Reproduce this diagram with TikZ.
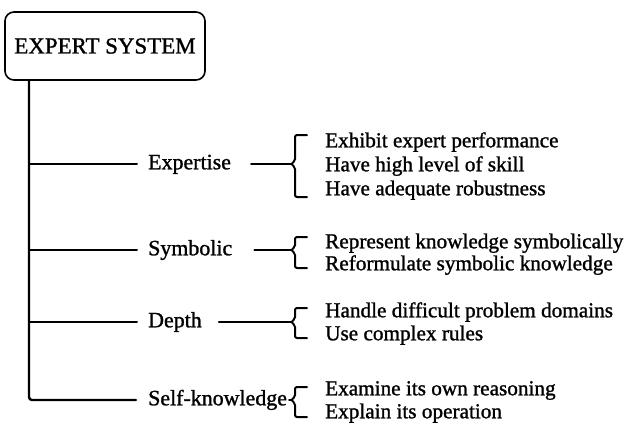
\documentclass[tikz,border=0pt]{standalone}
\usepackage{fontspec}
\setmainfont{Liberation Serif}[RawFeature={embolden=1.2}]
\usetikzlibrary{positioning}

\tikzset{
  lbl/.style={anchor=west, inner sep=0pt, font=\fontsize{22}{24}\selectfont, text height=15bp, text depth=4.5bp},
  item/.style={lbl, font=\fontsize{21.3}{24}\selectfont},
  stem/.style={line width=2bp},
  bracket/.style={line width=2bp, rounded corners=2bp},
}

\begin{document}
\begin{tikzpicture}[x=1bp, y=-1bp, line cap=round]
  \useasboundingbox (0,0) rectangle (636,426);

  % Root box
  \node[draw, line width=1.6bp, rounded corners=9bp, minimum width=200bp, minimum height=68bp,
        font=\fontsize{23}{25}\selectfont] (root) at (105,46) {EXPERT SYSTEM};

  % Branch labels
  \node[lbl] (expertise) at (148,164) {Expertise};
  \node[lbl] (symbolic) at (148,250) {Symbolic};
  \node[lbl] (depth) at (148,322) {Depth};
  \node[lbl] (self) at (148,400) {Self-knowledge};

  % Items
  \node[item] (exp1) at (325,142) {Exhibit expert performance};
  \node[item] (exp2) at (325,166) {Have high level of skill};
  \node[item] (exp3) at (325,190) {Have adequate robustness};
  \node[item] (sym1) at (325,243) {Represent knowledge symbolically};
  \node[item] (sym2) at (325,265) {Reformulate symbolic knowledge};
  \node[item] (dep1) at (325,312) {Handle difficult problem domains};
  \node[item] (dep2) at (325,335) {Use complex rules};
  \node[item] (slf1) at (325,390) {Examine its own reasoning};
  \node[item] (slf2) at (325,413) {Explain its operation};

  % Bracket tips
  \coordinate (bexp) at (291,164);
  \coordinate (bsym) at (291,250);
  \coordinate (bdep) at (291,322);
  \coordinate (bself) at (291,400);

  % Trunk and branches
  \coordinate (trunk) at (29,80);
  \draw[stem, line width=2.4bp, rounded corners=3bp, shorten >=12bp] (root.south -| trunk) -- (trunk |- self.west) -- (self.west);
  \foreach \n in {expertise, symbolic, depth}
    \draw[stem, shorten >=11bp] (trunk |- \n.west) -- (\n.west);

  % Label to bracket connectors
  \draw[stem, shorten <=20bp] (expertise.east) -- (bexp);
  \draw[stem, shorten <=22bp] (symbolic.east) -- (bsym);
  \draw[stem, shorten <=17bp] (depth.east) -- (bdep);
  \draw[stem, shorten <=2bp] (self.east) -- (bself);

  % Brackets
  \foreach \tip/\top/\bot in {bexp/135/197, bsym/237/268, bdep/308/338, bself/387/417}
    \draw[bracket] (307,\top) -| ([xshift=4bp,yshift=3bp]\tip) -- (\tip) -- ([xshift=4bp,yshift=-3bp]\tip) |- (307,\bot);
\end{tikzpicture}
\end{document}
